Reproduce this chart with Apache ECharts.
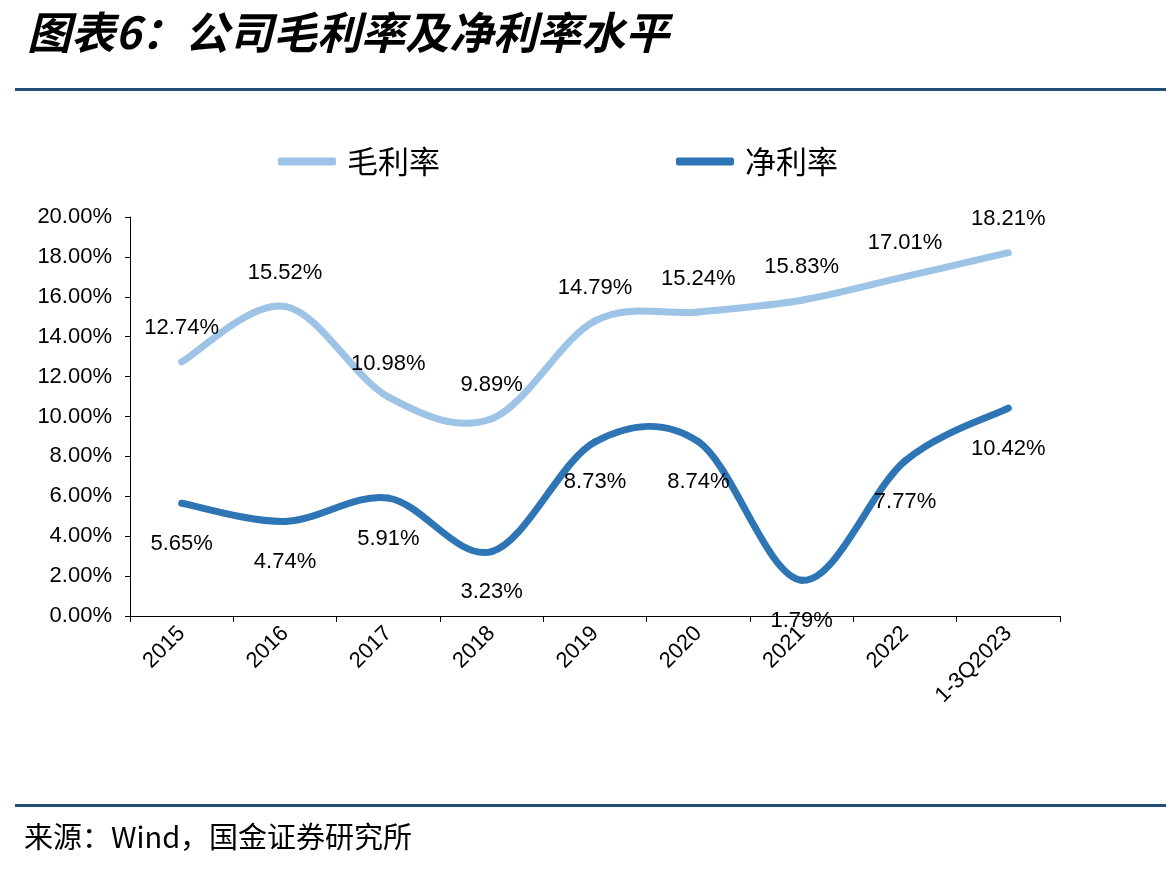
<!DOCTYPE html>
<html>
<head>
<meta charset="utf-8">
<script src="https://cdn.jsdelivr.net/npm/echarts@6/dist/echarts.min.js"></script>
<style>
  html, body { margin: 0; padding: 0; background: #fff; }
  #chart { width: 1166px; height: 872px; }
</style>
</head>
<body>
<div id="chart"></div>
<script>
// 数据
const years = ['2015', '2016', '2017', '2018', '2019', '2020', '2021', '2022', '1-3Q2023'];
const grossMargin = [12.74, 15.52, 10.98, 9.89, 14.79, 15.24, 15.83, 17.01, 18.21];
const netMargin = [5.65, 4.74, 5.91, 3.23, 8.73, 8.74, 1.79, 7.77, 10.42];
const yTicks = [0, 2, 4, 6, 8, 10, 12, 14, 16, 18, 20];

const cjk = '"Noto Sans CJK SC", sans-serif';
const latin = '"Liberation Sans", Arial, sans-serif';
const lightBlue = '#9DC3E6';
const darkBlue = '#2E75B6';

// Excel 风格平滑曲线（Catmull-Rom 转贝塞尔），逐段绘制
function curveSeries(name, values, color) {
  return {
    name: name,
    type: 'custom',
    data: values.map((v, i) => [i, v]),
    encode: { x: 0, y: 1 },
    silent: true,
    z: 2,
    renderItem: function (params, api) {
      const i = params.dataIndex;
      const n = values.length;
      if (i >= n - 1) return null;
      const p = k => {
        const j = Math.min(Math.max(k, 0), n - 1);
        return api.coord([j, values[j]]);
      };
      const p0 = p(i - 1), p1 = p(i), p2 = p(i + 1), p3 = p(i + 2);
      const t = 1 / 6;
      return {
        type: 'bezierCurve',
        shape: {
          x1: p1[0], y1: p1[1],
          cpx1: p1[0] + (p2[0] - p0[0]) * t, cpy1: p1[1] + (p2[1] - p0[1]) * t,
          cpx2: p2[0] - (p3[0] - p1[0]) * t, cpy2: p2[1] - (p3[1] - p1[1]) * t,
          x2: p2[0], y2: p2[1]
        },
        style: { stroke: color, lineWidth: 7, fill: null, lineCap: 'round' }
      };
    }
  };
}

function labelSeries(name, values, color, pos, dist) {
  return {
    name: name,
    type: 'line',
    data: values,
    color: color,
    symbol: 'circle',
    symbolSize: 1,
    showSymbol: true,
    itemStyle: { color: color },
    lineStyle: { width: 0, opacity: 0 },
    label: {
      show: true,
      position: pos,
      distance: dist,
      fontFamily: latin,
      fontSize: 22,
      color: '#000',
      formatter: p => p.value.toFixed(2) + '%'
    },
    z: 5
  };
}

let myChart = echarts.init(document.getElementById('chart'));
myChart.setOption({
  animation: false,
  backgroundColor: '#fff',
  title: {
    text: '图表6：公司毛利率及净利率水平',
    left: 22,
    top: 5,
    textStyle: {
      fontFamily: cjk,
      fontStyle: 'italic',
      fontWeight: 'bold',
      fontSize: 44,
      color: '#000'
    }
  },
  graphic: [
    // 上下分隔线
    { type: 'rect', shape: { x: 15, y: 88, width: 1151, height: 3 }, style: { fill: '#1F4E79' } },
    { type: 'rect', shape: { x: 15, y: 804, width: 1151, height: 3 }, style: { fill: '#1F4E79' } },
    {
      type: 'text', left: 24, top: 822,
      style: { text: '来源：Wind，国金证券研究所', font: '29px ' + cjk, fill: '#000' }
    }
  ],
  legend: {
    data: ['毛利率', '净利率'],
    top: 141,
    left: 273,
    itemGap: 236,
    itemWidth: 58,
    itemHeight: 8,
    icon: 'roundRect',
    textStyle: { fontFamily: cjk, fontSize: 31, color: '#000', padding: [0, 0, 0, 6] }
  },
  grid: {
    left: 130,
    right: 106,
    top: 217,
    bottom: 256
  },
  xAxis: {
    type: 'category',
    data: years,
    boundaryGap: true,
    axisLine: { lineStyle: { color: '#000', width: 1 } },
    axisTick: { show: true, interval: 0, length: 6, lineStyle: { color: '#000' } },
    axisLabel: {
      interval: 0,
      rotate: 45,
      margin: 14,
      fontFamily: latin,
      fontSize: 22,
      color: '#000'
    }
  },
  yAxis: {
    type: 'value',
    min: yTicks[0],
    max: yTicks[yTicks.length - 1],
    interval: 2,
    splitLine: { show: false },
    axisLine: { show: true, lineStyle: { color: '#000', width: 1 } },
    axisTick: { show: true, length: 5, lineStyle: { color: '#000' } },
    axisLabel: {
      margin: 18,
      fontFamily: latin,
      fontSize: 22,
      color: '#000',
      formatter: v => v.toFixed(2) + '%'
    }
  },
  series: [
    curveSeries('毛利率曲线', grossMargin, lightBlue),
    curveSeries('净利率曲线', netMargin, darkBlue),
    labelSeries('毛利率', grossMargin, lightBlue, 'top', 22),
    labelSeries('净利率', netMargin, darkBlue, 'bottom', 29)
  ]
});
</script>
</body>
</html>
